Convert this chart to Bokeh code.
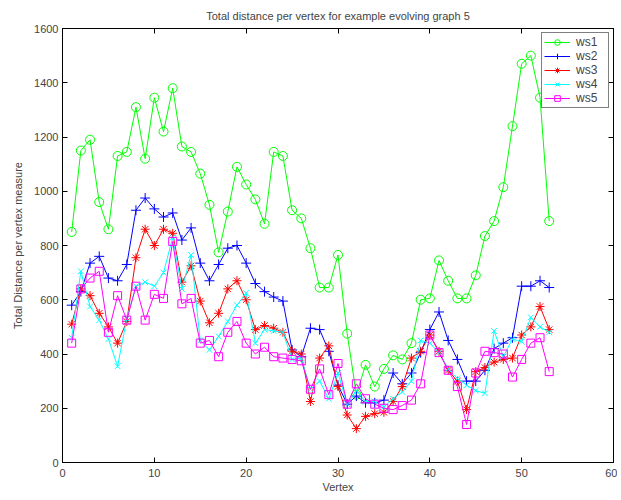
from bokeh.plotting import figure
from bokeh.models import Range1d, LinearAxis, FixedTicker, Legend, LegendItem
from bokeh.embed import file_html
from bokeh.resources import INLINE

vertex = list(range(1, 54))
ws1 = [850, 1150, 1190, 960, 860, 1130, 1145, 1310, 1120, 1345, 1220, 1380, 1165, 1145, 1065,
       950, 775, 925, 1090, 1025, 970, 880, 1145, 1130, 930, 900, 790, 645, 645, 765, 475,
       250, 360, 280, 345, 395, 380, 440, 600, 605, 745, 670, 605, 605, 690, 835, 890, 1015,
       1240, 1470, 1500, 1345, 890]
ws2 = [580, 630, 735, 760, 680, 670, 730, 930, 975, 935, 905, 920, 820, 865, 735, 670, 730,
       790, 800, 735, 660, 630, 610, 595, 415, 390, 495, 490, 410, 285, 215, 245, 220, 220,
       230, 330, 290, 330, 405, 490, 555, 450, 380, 300, 300, 340, 420, 440, 460, 650, 650,
       670, 645]
ws3 = [510, 640, 615, 550, 500, 440, 520, 755, 860, 800, 860, 845, 665, 725, 595, 515, 550,
       640, 670, 600, 490, 505, 495, 480, 410, 400, 225, 385, 430, 280, 175, 125, 170, 180,
       185, 225, 280, 385, 410, 470, 410, 340, 300, 195, 335, 350, 370, 380, 385, 470, 500,
       575, 490]
ws4 = [460, 705, 575, 525, 455, 355, 530, 650, 665, 650, 700, 830, 640, 765, 450, 415, 465,
       520, 580, 625, 440, 490, 485, 480, 380, 385, 270, 300, 235, 330, 215, 265, 225, 225,
       205, 235, 260, 300, 450, 440, 405, 345, 310, 285, 265, 255, 485, 390, 455, 445, 535,
       500, 480]
ws5 = [440, 640, 680, 705, 480, 615, 525, 650, 525, 620, 605, 815, 585, 605, 440, 450, 390,
       480, 520, 440, 400, 425, 390, 385, 380, 375, 270, 345, 250, 365, 215, 290, 235, 215,
       200, 195, 210, 230, 290, 470, 405, 340, 280, 140, 330, 410, 405, 400, 315, 380, 440,
       460, 335]

series_names = ["ws1", "ws2", "ws3", "ws4", "ws5"]
x_ticks = [0, 10, 20, 30, 40, 50, 60]
y_ticks = [0, 200, 400, 600, 800, 1000, 1200, 1400, 1600]

FONT = "Liberation Sans"

p = figure(frame_width=551, frame_height=434, output_backend="svg", toolbar_location=None,
           x_range=Range1d(0, 60), y_range=Range1d(0, 1600),
           title="Total distance per vertex for example evolving graph 5",
           min_border_left=62, min_border_right=4, min_border_top=28, min_border_bottom=30)
p.title.align = "center"
p.title.text_font = FONT
p.title.text_font_size = "11px"
p.title.text_font_style = "normal"
p.title.standoff = 14
p.title.offset = 0

p.xgrid.visible = False
p.ygrid.visible = False
p.outline_line_color = "black"
p.outline_line_width = 1

for ax, ticks, label in ((p.xaxis[0], x_ticks, "Vertex"), (p.yaxis[0], y_ticks, "Total Distance per vertex measure")):
    ax.ticker = FixedTicker(ticks=ticks)
    ax.axis_label = label
    ax.axis_label_text_font = FONT
    ax.axis_label_text_font_size = "11px"
    ax.axis_label_text_font_style = "normal"
    ax.major_label_text_font = FONT
    ax.major_label_text_font_size = "11px"
    ax.major_tick_in = 5
    ax.major_tick_out = 0
    ax.minor_tick_in = 0
    ax.minor_tick_out = 0
    ax.axis_line_color = "black"

p.xaxis[0].major_label_standoff = 6
p.xaxis[0].axis_label_standoff = 1
p.yaxis[0].major_label_standoff = 4
p.yaxis[0].axis_label_standoff = 7

for loc, ticks in (("above", x_ticks), ("right", y_ticks)):
    extra = LinearAxis(ticker=FixedTicker(ticks=ticks), major_tick_in=5, major_tick_out=0,
                       minor_tick_in=0, minor_tick_out=0,
                       major_label_overrides={t: "" for t in ticks},
                       major_label_standoff=0)
    p.add_layout(extra, loc)

styles = [
    ("#00ff00", "circle", ws1, 9),
    ("#0000ff", "cross", ws2, 10),
    ("#ff0000", "asterisk", ws3, 9),
    ("#00ffff", "x", ws4, 8),
    ("#ff00ff", "square", ws5, 8),
]
items = []
for name, (color, marker, ys, size) in zip(series_names, styles):
    r1 = p.line(vertex, ys, line_color=color, line_width=1)
    r2 = p.scatter(vertex, ys, marker=marker, size=size, line_color=color,
                   fill_color=None, line_width=1)
    items.append(LegendItem(label=name, renderers=[r1, r2]))

legend = Legend(items=items, location="top_right", border_line_color="black",
                border_line_width=1, label_text_font=FONT, label_text_font_size="12px",
                glyph_width=26, glyph_height=14, label_height=14, label_width=30,
                spacing=0, padding=2, margin=4, label_standoff=6)
p.add_layout(legend, "center")

open("out.html", "w").write(file_html(p, INLINE))
